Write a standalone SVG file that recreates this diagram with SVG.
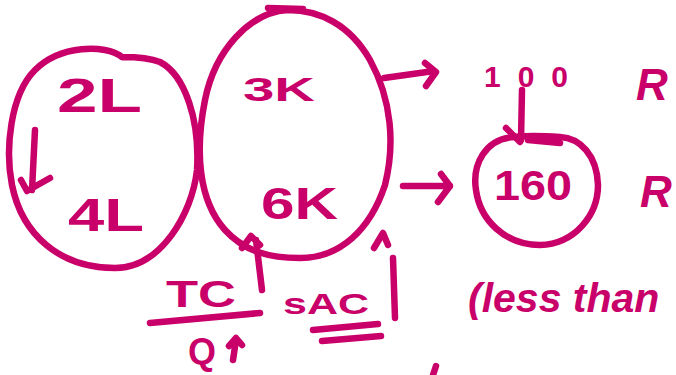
<svg xmlns="http://www.w3.org/2000/svg" width="676" height="375" viewBox="0 0 676 375">
<defs>
<style>
.s{fill:none;stroke:#c9006a;stroke-width:6.5;stroke-linecap:round;stroke-linejoin:round}
.t{fill:#c9006a;font-family:"Liberation Sans","DejaVu Sans",sans-serif;font-weight:bold}
</style>
</defs>
<rect width="676" height="375" fill="#ffffff"/>
<g id="node-left">
<path class="s" d="M122,57 C105,44 60,45 35,70 C10,95 5,150 12,185 C22,235 60,268 115,268 C160,268 192,215 197,170 C200,120 185,75 160,62 C150,58 138,57 122,57"/>
<text class="t" x="57" y="112" font-size="48" textLength="85" lengthAdjust="spacingAndGlyphs">2L</text>
<text class="t" x="68" y="231" font-size="46" textLength="76" lengthAdjust="spacingAndGlyphs">4L</text>
</g>
<g id="node-right">
<path class="s" d="M288,10 C250,12 215,50 205,100 C195,150 198,200 225,230 C245,252 270,258 300,258 C340,258 370,230 385,185 C395,145 392,100 370,60 C350,25 320,10 288,10 M268,8 L303,9"/>
<text class="t" x="243" y="101" font-size="34" textLength="72" lengthAdjust="spacingAndGlyphs">3K</text>
<text class="t" x="261" y="219" font-size="44" textLength="77" lengthAdjust="spacingAndGlyphs">6K</text>
</g>
<g id="node-160">
<path class="s" d="M515,137 C485,138 472,165 476,190 C480,220 505,245 540,245 C575,244 598,215 598,185 C597,155 580,138 560,137 C545,136 530,135 515,137"/>
<text class="t" x="494" y="200" font-size="42" textLength="78" lengthAdjust="spacingAndGlyphs">160</text>
</g>
<g id="label-100">
<text class="t" x="484" y="87" font-size="30" textLength="84" lengthAdjust="spacing">100</text>
</g>
<g id="label-tc">
<text class="t" x="166" y="307" font-size="36" textLength="70" lengthAdjust="spacingAndGlyphs">TC</text>
<text class="t" x="188" y="364" font-size="36">Q</text>
<path class="s" d="M233,360 L236,340 M229,346 L236,338 L242,345"/>
</g>
<g id="label-sac">
<text class="t" x="283" y="314" font-size="30" textLength="86" lengthAdjust="spacingAndGlyphs">sAC</text>
</g>
<g id="label-less">
<text class="t" x="468" y="312" font-size="41" font-style="italic">(less than</text>
</g>
<g id="label-r">
<text class="t" x="636" y="100" font-size="44" font-style="italic">R</text>
<text class="t" x="640" y="207" font-size="44" font-style="italic">R</text>
</g>
<g id="connectors">
<path class="s" d="M35,130 L32,190 M21,180 L27,191 L50,178"/>
<path class="s" d="M262,290 L256,240 M242,248 L251,236 L260,245"/>
<path class="s" d="M395,318 L393,258 M374,248 L383,233 L388,245"/>
<path class="s" d="M384,78 L434,71 M425,63 L436,72 L426,86"/>
<path class="s" d="M522,90 L521,140 M506,128 L520,142 M528,140 L560,143"/>
<path class="s" d="M403,186 L450,186 M441,174 L450,186 L438,202"/>
<path class="s" d="M150,323 L260,313"/>
<path class="s" d="M313,330 L378,324 M322,341 L381,336"/>
<path class="s" d="M436,366 L433,375"/>
</g>
</svg>
